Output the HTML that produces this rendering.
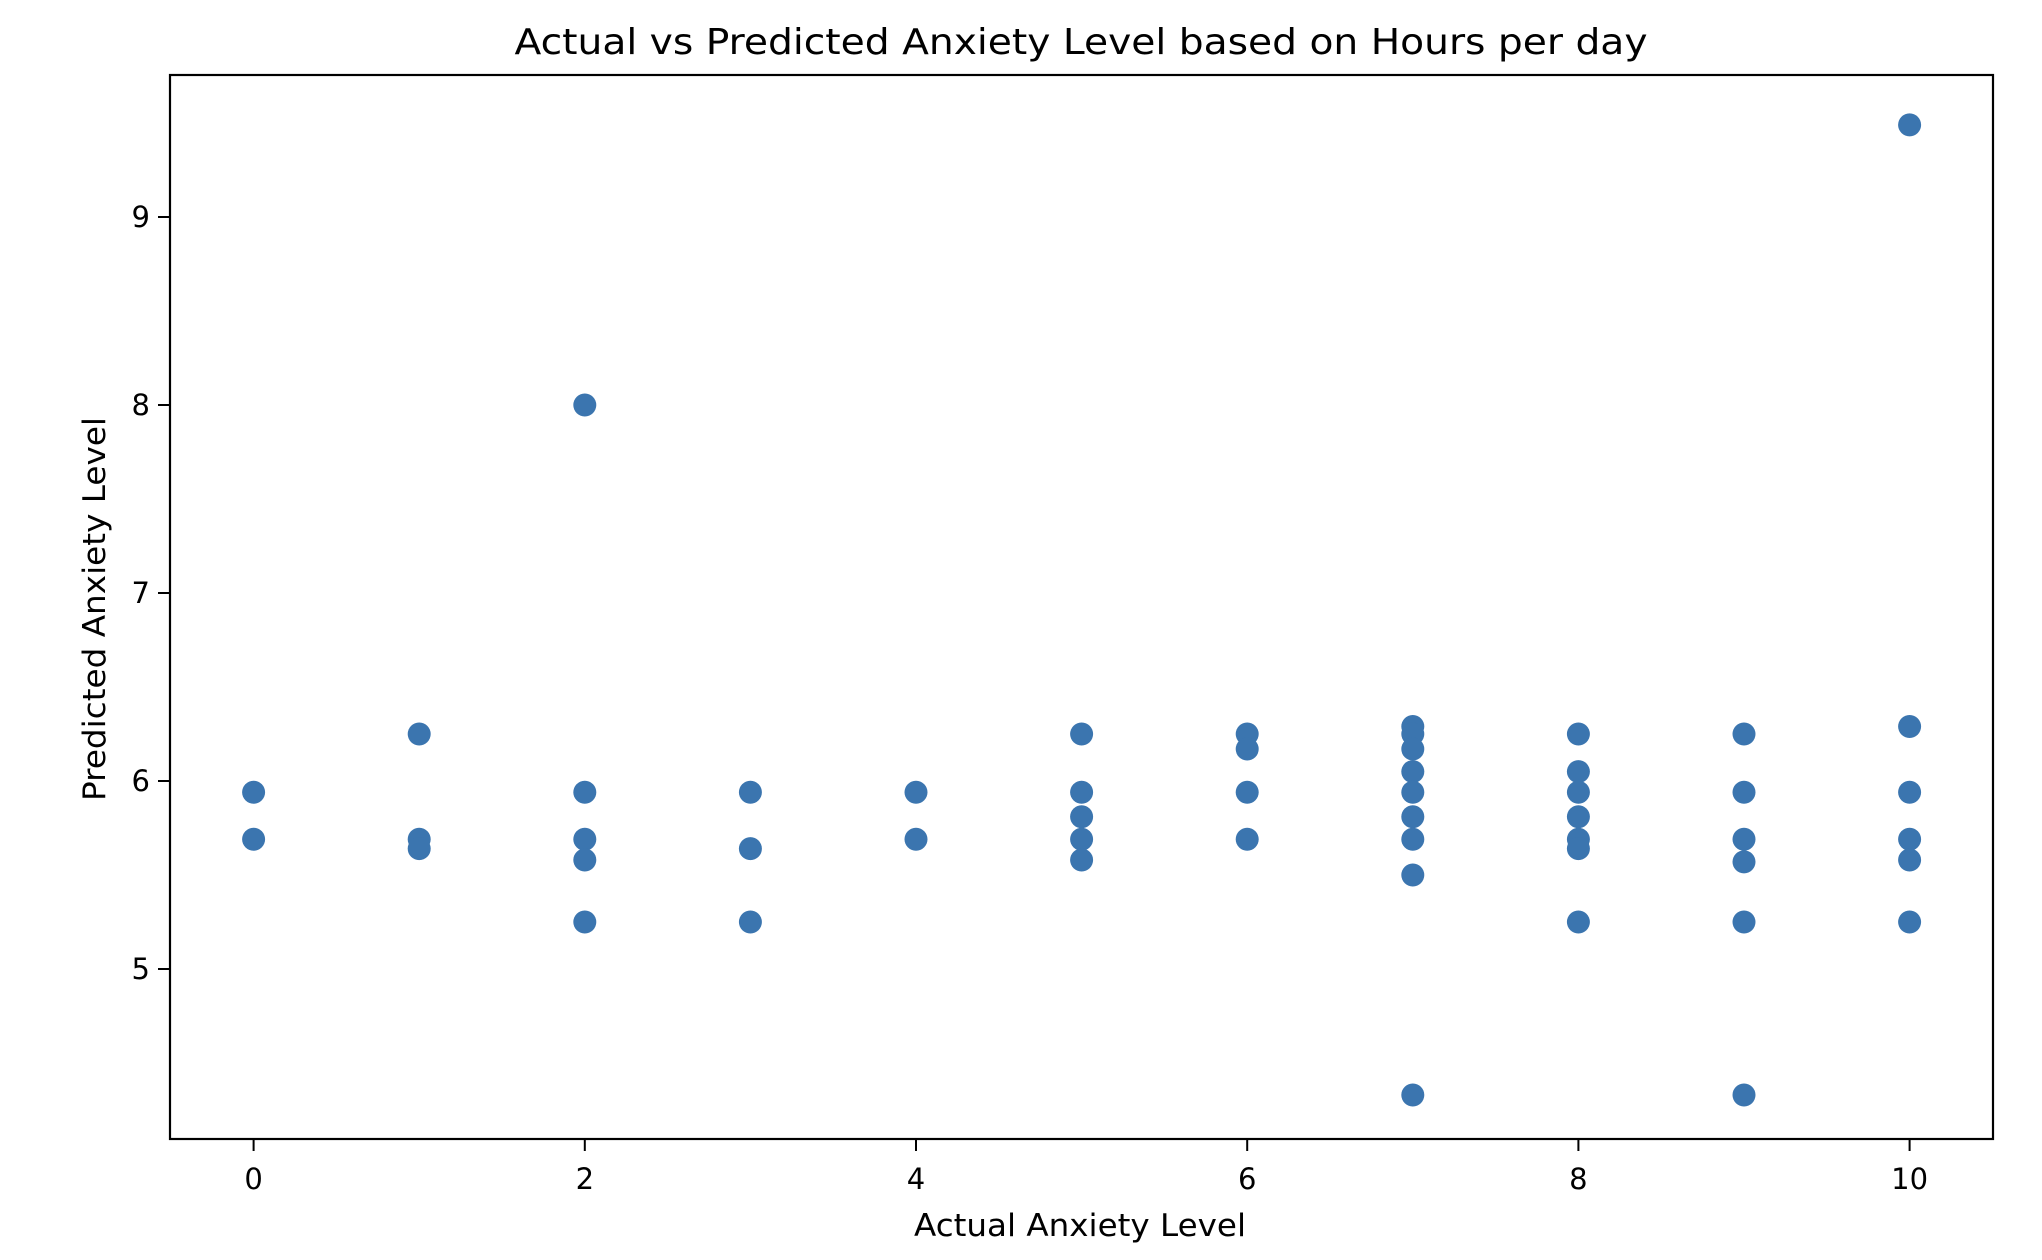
<!DOCTYPE html>
<html><head><meta charset="utf-8"><style>
html,body{margin:0;padding:0;background:#fff;}
svg{display:block;font-family:"DejaVu Sans","Liberation Sans",sans-serif;}
</style></head><body>
<svg id="chart" width="2042" height="1260" viewBox="0 0 2042 1260" xmlns="http://www.w3.org/2000/svg">
<rect width="2042" height="1260" fill="#fff"/>
<text x="1081" y="54" font-size="36" text-anchor="middle" textLength="1133" lengthAdjust="spacingAndGlyphs" fill="#000">Actual vs Predicted Anxiety Level based on Hours per day</text>
<g id="marks"></g>
<rect x="170" y="75" width="1823" height="1064" fill="none" stroke="#000" stroke-width="2.2"/>
<g id="xticks"></g>
<g id="yticks"></g>
<text x="1080" y="1236" font-size="31" text-anchor="middle" textLength="332" lengthAdjust="spacingAndGlyphs">Actual Anxiety Level</text>
<text x="0" y="0" font-size="31" text-anchor="middle" textLength="384" lengthAdjust="spacingAndGlyphs" transform="translate(105,609) rotate(-90)">Predicted Anxiety Level</text>
</svg>
<script>
const actual = [0,0, 1,1,1, 2,2,2,2,2, 3,3,3, 4,4, 5,5,5,5,5, 6,6,6,6, 7,7,7,7,7,7,7,7,7, 8,8,8,8,8,8,8, 9,9,9,9,9,9, 10,10,10,10,10,10];
const predicted = [5.94,5.69, 6.25,5.69,5.64, 8.0,5.94,5.69,5.58,5.25, 5.94,5.64,5.25, 5.94,5.69, 6.25,5.94,5.81,5.69,5.58, 6.25,6.17,5.94,5.69, 6.29,6.25,6.17,6.05,5.94,5.81,5.69,5.50,4.33, 6.25,6.05,5.94,5.81,5.69,5.64,5.25, 6.25,5.94,5.69,5.57,5.25,4.33, 9.49,6.29,5.94,5.69,5.58,5.25];
const xTickLabels = [0,2,4,6,8,10];
const yTickLabels = [5,6,7,8,9];
const NS = "http://www.w3.org/2000/svg";
function xScale(v){ return 253.6 + v*165.6; }
function yScale(v){ return 217 + (9 - v)*188; }
const marks = document.getElementById('marks');
actual.forEach((a,i)=>{
  const c = document.createElementNS(NS,'circle');
  c.setAttribute('cx', xScale(a));
  c.setAttribute('cy', yScale(predicted[i]));
  c.setAttribute('r', 11.5);
  c.setAttribute('fill', '#3b75af');
  
  
  marks.appendChild(c);
});
const xg = document.getElementById('xticks');
xTickLabels.forEach(t=>{
  const x = xScale(t);
  const l = document.createElementNS(NS,'line');
  l.setAttribute('x1',x);l.setAttribute('x2',x);l.setAttribute('y1',1139);l.setAttribute('y2',1151);
  l.setAttribute('stroke','#000');l.setAttribute('stroke-width','2');
  
  
  xg.appendChild(l);
  const tx = document.createElementNS(NS,'text');
  tx.setAttribute('x',x);tx.setAttribute('y',1189);tx.setAttribute('font-size','29');tx.setAttribute('text-anchor','middle');
  tx.textContent = t;
  
  
  xg.appendChild(tx);
});
const yg = document.getElementById('yticks');
yTickLabels.forEach(t=>{
  const y = yScale(t);
  const l = document.createElementNS(NS,'line');
  l.setAttribute('x1',158);l.setAttribute('x2',170);l.setAttribute('y1',y);l.setAttribute('y2',y);
  l.setAttribute('stroke','#000');l.setAttribute('stroke-width','2');
  
  
  yg.appendChild(l);
  const tx = document.createElementNS(NS,'text');
  tx.setAttribute('x',150);tx.setAttribute('y',y+10);tx.setAttribute('font-size','29');tx.setAttribute('text-anchor','end');
  tx.textContent = t;
  
  
  yg.appendChild(tx);
});
</script>
</body></html>
